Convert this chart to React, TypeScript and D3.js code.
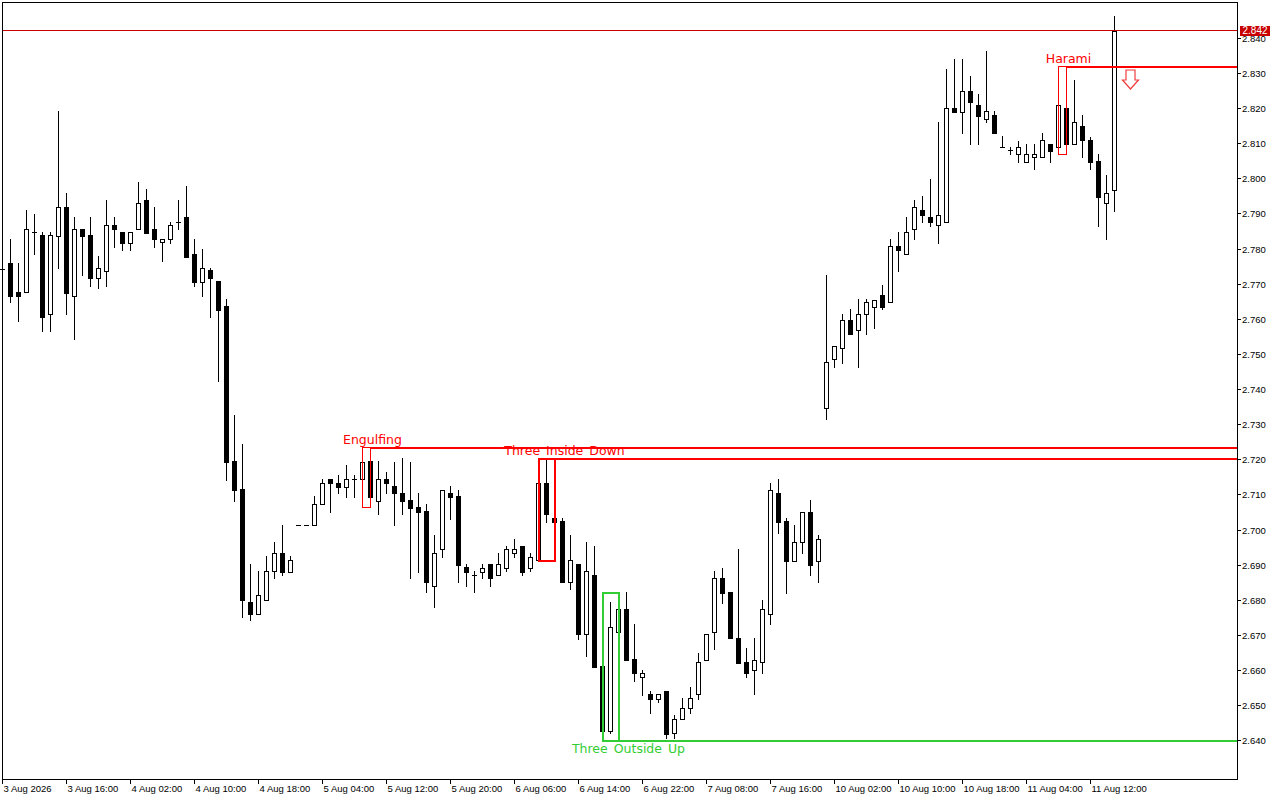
import React, { useEffect, useRef } from 'react'
import * as d3 from 'd3'

// --- DATA (2h candles) ---
const opens = [
  2.7742, 2.7758, 2.7675, 2.7675, 2.7846, 2.7838, 2.7615, 2.7836, 2.7917, 2.7666,
  2.7857, 2.7838, 2.7717, 2.7737, 2.7866, 2.7846, 2.7816, 2.7857, 2.7938, 2.7857,
  2.7818, 2.7826, 2.7877, 2.7889, 2.7786, 2.7705, 2.7739, 2.7707, 2.7636, 2.7195,
  2.7115, 2.6793, 2.6761, 2.6801, 2.6882, 2.6932, 2.6880, 2.7013, 2.7012, 2.7012,
  2.7072, 2.7144, 2.7134, 2.7122, 2.7143, 2.7143, 2.7195, 2.7082, 2.7143, 2.7124,
  2.7105, 2.7084, 2.7064, 2.7053, 2.6840, 2.6944, 2.7105, 2.7095, 2.6893, 2.6872,
  2.6880, 2.6902, 2.6872, 2.6892, 2.6932, 2.6953, 2.6892, 2.6913, 2.7134, 2.7032,
  2.7024, 2.6851, 2.6902, 2.6702, 2.6872, 2.6611, 2.6427, 2.6709, 2.6773, 2.6631,
  2.6579, 2.6532, 2.6518, 2.6540, 2.6420, 2.6460, 2.6491, 2.6531, 2.6630, 2.6709,
  2.6861, 2.6821, 2.6690, 2.6622, 2.6600, 2.6622, 2.6761, 2.7103, 2.7024, 2.6911,
  2.6964, 2.7051, 2.6911, 2.7345, 2.7485, 2.7516, 2.7596, 2.7567, 2.7615, 2.7635,
  2.7667, 2.7647, 2.7806, 2.7786, 2.7857, 2.7909, 2.7889, 2.7866, 2.7876, 2.8199,
  2.8189, 2.8250, 2.8210, 2.8168, 2.8179, 2.8090, 2.8080, 2.8068, 2.8047, 2.8060,
  2.8060, 2.8099, 2.8088, 2.8199, 2.8099, 2.8149, 2.8108, 2.8049, 2.7929, 2.7968,
]

const highs = [
  2.7760, 2.7827, 2.7758, 2.7910, 2.7898, 2.7846, 2.7846, 2.8191, 2.7957, 2.7889,
  2.7857, 2.7889, 2.7779, 2.7938, 2.7889, 2.7846, 2.7846, 2.7989, 2.7969, 2.7917,
  2.7826, 2.7877, 2.7938, 2.7978, 2.7826, 2.7798, 2.7746, 2.7707, 2.7656, 2.7326,
  2.7245, 2.6902, 2.6882, 2.6925, 2.6965, 2.7013, 2.6925, 2.7013, 2.7012, 2.7095,
  2.7144, 2.7144, 2.7155, 2.7184, 2.7155, 2.7200, 2.7236, 2.7195, 2.7163, 2.7193,
  2.7203, 2.7193, 2.7103, 2.7072, 2.6984, 2.7114, 2.7124, 2.7114, 2.6902, 2.6882,
  2.6902, 2.6902, 2.6932, 2.6953, 2.6973, 2.6953, 2.6932, 2.7203, 2.7203, 2.7073,
  2.7032, 2.6984, 2.6902, 2.6964, 2.6953, 2.6711, 2.6793, 2.6821, 2.6821, 2.6731,
  2.6600, 2.6541, 2.6531, 2.6540, 2.6472, 2.6520, 2.6551, 2.6650, 2.6702, 2.6882,
  2.6892, 2.6821, 2.6945, 2.6662, 2.6690, 2.6801, 2.7134, 2.7143, 2.7032, 2.7013,
  2.7051, 2.7084, 2.6984, 2.7726, 2.7524, 2.7615, 2.7628, 2.7656, 2.7656, 2.7655,
  2.7696, 2.7826, 2.7846, 2.7889, 2.7938, 2.7949, 2.7998, 2.8160, 2.8310, 2.8339,
  2.8339, 2.8291, 2.8240, 2.8362, 2.8191, 2.8120, 2.8090, 2.8106, 2.8099, 2.8099,
  2.8128, 2.8099, 2.8319, 2.8268, 2.8280, 2.8179, 2.8118, 2.8068, 2.8009, 2.8462,
]

const lows = [
  2.7725, 2.7647, 2.7594, 2.7675, 2.7784, 2.7566, 2.7566, 2.7745, 2.7613, 2.7542,
  2.7724, 2.7694, 2.7687, 2.7694, 2.7805, 2.7796, 2.7796, 2.7857, 2.7845, 2.7805,
  2.7765, 2.7816, 2.7856, 2.7777, 2.7693, 2.7665, 2.7606, 2.7423, 2.7141, 2.7082,
  2.6750, 2.6742, 2.6761, 2.6801, 2.6861, 2.6871, 2.6880, 2.7013, 2.7012, 2.7012,
  2.7072, 2.7051, 2.7103, 2.7093, 2.7093, 2.7143, 2.7063, 2.7043, 2.7103, 2.7012,
  2.7043, 2.6861, 2.6880, 2.6821, 2.6780, 2.6923, 2.7031, 2.6851, 2.6840, 2.6821,
  2.6861, 2.6840, 2.6872, 2.6882, 2.6923, 2.6871, 2.6882, 2.6913, 2.7022, 2.7003,
  2.6851, 2.6831, 2.6688, 2.6641, 2.6609, 2.6401, 2.6420, 2.6629, 2.6629, 2.6570,
  2.6529, 2.6479, 2.6510, 2.6407, 2.6407, 2.6460, 2.6479, 2.6518, 2.6630, 2.6660,
  2.6792, 2.6690, 2.6621, 2.6579, 2.6531, 2.6591, 2.6731, 2.6991, 2.6820, 2.6911,
  2.6932, 2.6871, 2.6851, 2.7314, 2.7463, 2.7475, 2.7556, 2.7463, 2.7556, 2.7574,
  2.7627, 2.7647, 2.7737, 2.7786, 2.7826, 2.7876, 2.7865, 2.7816, 2.7876, 2.8189,
  2.8128, 2.8099, 2.8099, 2.8159, 2.8128, 2.8090, 2.8068, 2.8047, 2.8047, 2.8026,
  2.8060, 2.8047, 2.8068, 2.8099, 2.8099, 2.8060, 2.8026, 2.7865, 2.7826, 2.7908,
]

const closes = [
  2.7742, 2.7666, 2.7666, 2.7857, 2.7846, 2.7606, 2.7838, 2.7917, 2.7674, 2.7857,
  2.7836, 2.7717, 2.7746, 2.7866, 2.7857, 2.7816, 2.7846, 2.7929, 2.7845, 2.7826,
  2.7826, 2.7866, 2.7877, 2.7777, 2.7705, 2.7746, 2.7717, 2.7625, 2.7193, 2.7112,
  2.6799, 2.6761, 2.6813, 2.6882, 2.6932, 2.6880, 2.6913, 2.7013, 2.7012, 2.7072,
  2.7134, 2.7134, 2.7122, 2.7143, 2.7143, 2.7193, 2.7093, 2.7143, 2.7133, 2.7103,
  2.7082, 2.7062, 2.7051, 2.6851, 2.6932, 2.7114, 2.7093, 2.6900, 2.6880, 2.6872,
  2.6892, 2.6861, 2.6901, 2.6944, 2.6944, 2.6880, 2.6923, 2.7134, 2.7043, 2.7022,
  2.6851, 2.6913, 2.6702, 2.6882, 2.6609, 2.6427, 2.6722, 2.6773, 2.6629, 2.6591,
  2.6591, 2.6518, 2.6531, 2.6418, 2.6461, 2.6491, 2.6520, 2.6622, 2.6702, 2.6861,
  2.6820, 2.6690, 2.6621, 2.6591, 2.6630, 2.6773, 2.7114, 2.7022, 2.6911, 2.6964,
  2.7051, 2.6900, 2.6972, 2.7476, 2.7524, 2.7596, 2.7556, 2.7615, 2.7647, 2.7655,
  2.7635, 2.7806, 2.7797, 2.7846, 2.7917, 2.7897, 2.7876, 2.7897, 2.8199, 2.8189,
  2.8250, 2.8218, 2.8178, 2.8191, 2.8128, 2.8090, 2.8080, 2.8088, 2.8068, 2.8068,
  2.8108, 2.8079, 2.8210, 2.8099, 2.8159, 2.8108, 2.8047, 2.7947, 2.7958, 2.8420,
]

// one label every 8 bars
const timeLabels = [
  '3 Aug 2026', '3 Aug 16:00', '4 Aug 02:00', '4 Aug 10:00', '4 Aug 18:00', '5 Aug 04:00',
  '5 Aug 12:00', '5 Aug 20:00', '6 Aug 06:00', '6 Aug 14:00', '6 Aug 22:00', '7 Aug 08:00',
  '7 Aug 16:00', '10 Aug 02:00', '10 Aug 10:00', '10 Aug 18:00', '11 Aug 04:00', '11 Aug 12:00',
]
const labelEvery = 8

const priceTicks = [
  2.64, 2.65, 2.66, 2.67, 2.68, 2.69, 2.70, 2.71, 2.72, 2.73, 2.74,
  2.75, 2.76, 2.77, 2.78, 2.79, 2.80, 2.81, 2.82, 2.83, 2.84,
]
const lastPrice = 2.842

const patterns = [
  { name: 'Engulfing', first: 45, last: 46, bullish: false, signal: false },
  { name: 'Three Inside Down', first: 67, last: 69, bullish: false, signal: false },
  { name: 'Three Outside Up', first: 75, last: 77, bullish: true, signal: false },
  { name: 'Harami', first: 132, last: 133, bullish: false, signal: true },
]

export default function App() {
  const svgRef = useRef<SVGSVGElement>(null)

  useEffect(() => {
    if (!svgRef.current) return
    const svg = d3.select(svgRef.current)
    svg.selectAll('*').remove()

    const plot = { left: 2, top: 2, right: 1237, bottom: 779 }
    const red = '#ff0000'
    const darkRed = '#c80000'
    const green = '#32cd32'
    const axisFont = '"Liberation Sans", Arial, sans-serif'
    const labelFont = '"DejaVu Sans", sans-serif'

    // 8px per bar
    const x = d3.scaleLinear().domain([0, 1]).range([2.5, 10.5])
    const y = d3.scaleLinear().domain([2.629, 2.8502]).range([plot.bottom, plot.top])
    const py = (v: number) => Math.round(y(v))

    svg.append('rect')
      .attr('width', 1280).attr('height', 800).attr('fill', '#fff')

    // --- candles ---
    const candles = svg.append('g').attr('shape-rendering', 'crispEdges')
    opens.forEach((o, i) => {
      const c = closes[i]
      const cx = x(i)
      const g = candles.append('g')
      if (highs[i] !== lows[i]) {
        g.append('line')
          .attr('x1', cx).attr('x2', cx)
          .attr('y1', py(highs[i])).attr('y2', py(lows[i]) + 1)
          .attr('stroke', '#000').attr('stroke-width', 1)
      }
      const top = py(Math.max(o, c))
      const bot = py(Math.min(o, c))
      if (bot - top < 1) {
        g.append('rect')
          .attr('x', cx - 2.5).attr('y', top).attr('width', 5).attr('height', 1)
          .attr('fill', '#000')
      } else if (c > o) {
        g.append('rect')
          .attr('x', cx - 2).attr('y', top + 0.5).attr('width', 4).attr('height', bot - top)
          .attr('fill', '#fff').attr('stroke', '#000').attr('stroke-width', 1)
      } else {
        g.append('rect')
          .attr('x', cx - 2.5).attr('y', top).attr('width', 5).attr('height', bot - top + 1)
          .attr('fill', '#000')
      }
    })

    // --- current price line ---
    const ly = Math.floor(y(lastPrice))
    svg.append('rect')
      .attr('x', plot.left).attr('y', ly)
      .attr('width', plot.right - plot.left).attr('height', 1)
      .attr('fill', darkRed)
      .attr('shape-rendering', 'crispEdges')

    // --- pattern marks ---
    patterns.forEach((p) => {
      const idx = d3.range(p.first, p.last + 1)
      const hi = d3.max(idx, (i) => highs[i]) as number
      const lo = d3.min(idx, (i) => lows[i]) as number
      const color = p.bullish ? green : red
      const n = idx.length
      const x0 = x(p.first)
      const x1 = x(p.last)
      const level = p.bullish ? lo : hi

      svg.append('rect')
        .attr('x', x0).attr('y', py(hi) + 0.5)
        .attr('width', x1 - x0).attr('height', py(lo) - py(hi))
        .attr('fill', 'none').attr('stroke', color)
        .attr('stroke-width', n === 3 ? 2 : 1)
        .attr('shape-rendering', 'crispEdges')

      svg.append('line')
        .attr('x1', x1).attr('x2', plot.right)
        .attr('y1', py(level) + 0.5).attr('y2', py(level) + 0.5)
        .attr('stroke', color).attr('stroke-width', 2)
        .attr('shape-rendering', 'crispEdges')

      svg.append('text')
        .attr('x', x1 + (n === 3 ? 10 : 2))
        .attr('y', p.bullish ? py(level) + 13 : py(level) - 3)
        .attr('text-anchor', 'middle')
        .attr('fill', color)
        .style('font-family', labelFont)
        .style('font-size', '12.5px')
        .style('word-spacing', '2px')
        .text(p.name)

      if (p.signal) {
        const ax = x(p.last + 8)
        const ay = py(level) + 4
        const path = d3.path()
        path.moveTo(ax - 4.5, ay)
        path.lineTo(ax + 4.5, ay)
        path.lineTo(ax + 4.5, ay + 10)
        path.lineTo(ax + 8, ay + 10)
        path.lineTo(ax, ay + 19)
        path.lineTo(ax - 8, ay + 10)
        path.lineTo(ax - 4.5, ay + 10)
        path.closePath()
        svg.append('path')
          .attr('d', path.toString())
          .attr('fill', '#fff')
          .attr('stroke', '#f03c3c')
          .attr('stroke-width', 1.2)
      }
    })

    // --- frame ---
    svg.append('rect')
      .attr('x', plot.left + 0.5).attr('y', plot.top + 0.5)
      .attr('width', plot.right - plot.left).attr('height', plot.bottom - plot.top)
      .attr('fill', 'none').attr('stroke', '#000').attr('stroke-width', 1)
      .attr('shape-rendering', 'crispEdges')

    // --- price axis ---
    const yAxis = svg.append('g')
    priceTicks.forEach((t) => {
      const ty = py(t) + 0.5
      yAxis.append('line')
        .attr('x1', plot.right).attr('x2', plot.right + 4)
        .attr('y1', ty).attr('y2', ty)
        .attr('stroke', '#000').attr('shape-rendering', 'crispEdges')
      yAxis.append('text')
        .attr('x', plot.right + 5).attr('y', ty + 3.5)
        .attr('fill', '#000')
        .style('font-family', axisFont).style('font-size', '9.5px')
        .text(t.toFixed(3))
    })

    svg.append('rect')
      .attr('x', 1240).attr('y', ly - 4).attr('width', 30).attr('height', 10)
      .attr('fill', darkRed)
    svg.append('text')
      .attr('x', 1255).attr('y', ly + 4)
      .attr('text-anchor', 'middle')
      .attr('fill', '#fff')
      .style('font-family', axisFont).style('font-size', '10px')
      .text(lastPrice.toFixed(3))

    // --- time axis ---
    const xAxis = svg.append('g')
    timeLabels.forEach((label, k) => {
      const tx = x(k * labelEvery)
      xAxis.append('line')
        .attr('x1', tx).attr('x2', tx)
        .attr('y1', plot.bottom).attr('y2', plot.bottom + 5)
        .attr('stroke', '#000').attr('shape-rendering', 'crispEdges')
      xAxis.append('text')
        .attr('x', tx + 1).attr('y', plot.bottom + 13)
        .attr('fill', '#000')
        .style('font-family', axisFont).style('font-size', '9.5px')
        .text(label)
    })
  }, [])

  return (
    <svg
      ref={svgRef}
      width={1280}
      height={800}
      style={{ position: 'absolute', left: 0, top: 0, display: 'block' }}
    />
  )
}
